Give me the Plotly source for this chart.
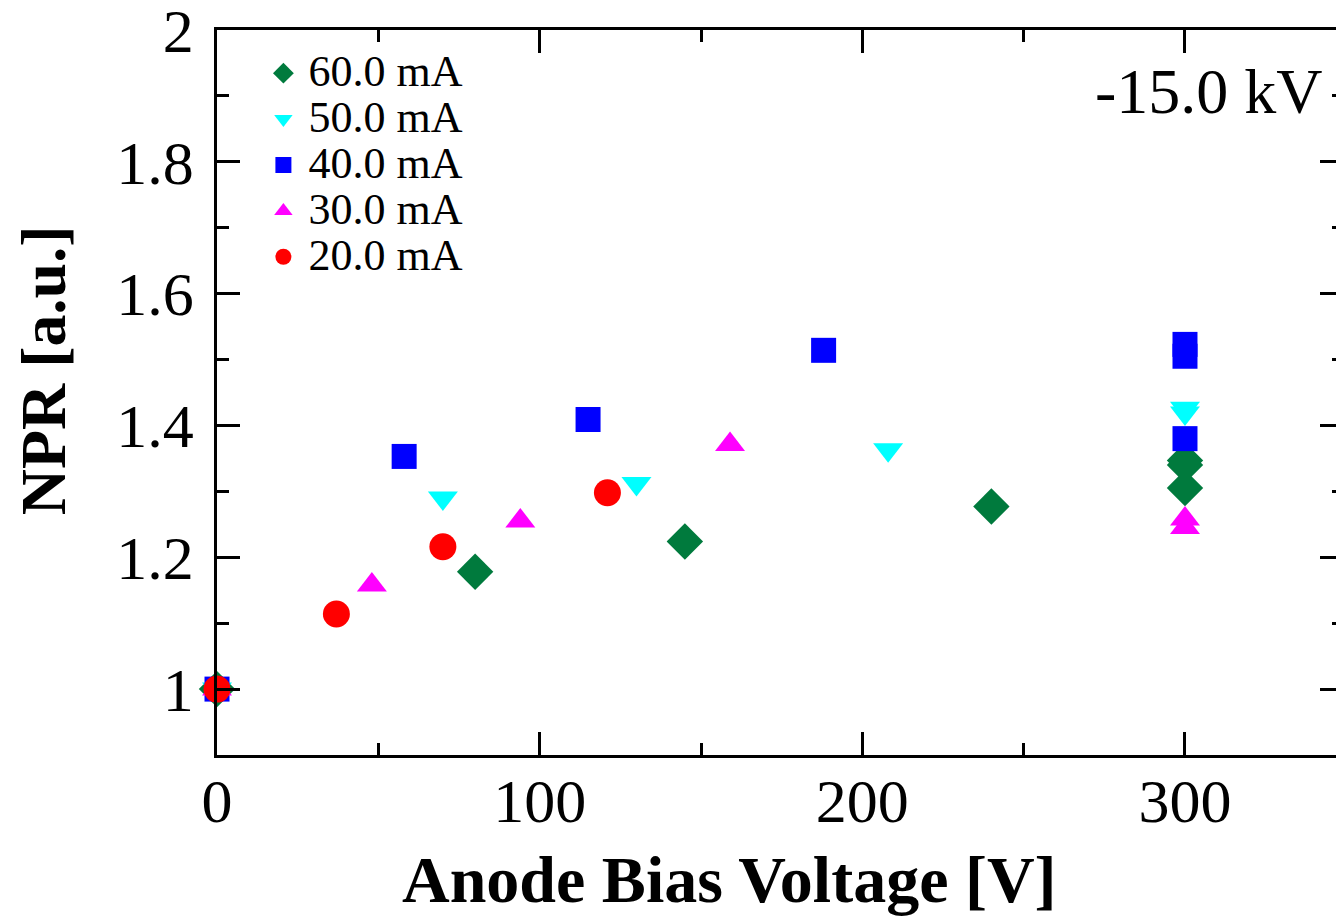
import plotly.graph_objects as go

# ---- data ----
series_names = ["60.0 mA", "50.0 mA", "40.0 mA", "30.0 mA", "20.0 mA"]

v60 = [0, 80, 145, 240, 300, 300, 300]
npr60 = [1.0, 1.178, 1.224, 1.277, 1.347, 1.340, 1.305]

v50 = [0, 70, 130, 208, 300, 300]
npr50 = [1.0, 1.290, 1.312, 1.363, 1.426, 1.419]

v40 = [0, 58, 115, 188, 300, 300, 300]
npr40 = [1.0, 1.353, 1.409, 1.514, 1.523, 1.505, 1.380]

v30 = [0, 48, 94, 159, 300, 300]
npr30 = [1.0, 1.158, 1.255, 1.371, 1.258, 1.245]

v20 = [0, 37, 70, 121]
npr20 = [1.0, 1.114, 1.216, 1.298]

x_tick_vals = [0, 100, 200, 300]
y_tick_vals = [1.0, 1.2, 1.4, 1.6, 1.8, 2.0]

# ---- styles ----
FONT = "Liberation Serif"
styles = [
    dict(symbol="diamond", color="#007a3d", size=28),
    dict(symbol="triangle-down", color="#00ffff", size=26),
    dict(symbol="square", color="#0000ff", size=25),
    dict(symbol="triangle-up", color="#ff00ff", size=26),
    dict(symbol="circle", color="#ff0000", size=27),
]
xs = [v60, v50, v40, v30, v20]
ys = [npr60, npr50, npr40, npr30, npr20]

fig = go.Figure()
for name, x, y, st in zip(series_names, xs, ys, styles):
    fig.add_trace(go.Scatter(
        x=x, y=y, mode="markers", cliponaxis=False,
        name='<span style="font-size:44px">' + name + "</span>",
        marker=dict(symbol=st["symbol"], color=st["color"], size=st["size"],
                    line=dict(width=0)),
    ))

# invisible carrier for the right-hand tick axis
fig.add_trace(go.Scatter(x=v20, y=npr20, yaxis="y2", mode="markers",
                         marker=dict(opacity=0), showlegend=False,
                         hoverinfo="skip"))

axis_common = dict(
    showgrid=False, zeroline=False, linecolor="black", linewidth=2.5,
    tickcolor="black", tickwidth=2.5, ticks="inside",
    ticklabeloverflow="allow",
    tickfont=dict(family=FONT, size=62, color="black"),
)

Y_RANGE = [0.9, 2.0]

fig.update_layout(
    width=1336, height=916,
    margin=dict(l=217, r=0, t=30, b=161, autoexpand=False),
    paper_bgcolor="white", plot_bgcolor="white",
    showlegend=True,
    legend=dict(x=0.037, y=0.979, xanchor="left", yanchor="top",
                bgcolor="rgba(0,0,0,0)", borderwidth=0, itemwidth=40,
                font=dict(family=FONT, size=33, color="black"),
                traceorder="normal"),
    xaxis=dict(range=[0, 346.8], tickvals=x_tick_vals, ticklen=23,
               showline=True, mirror="ticks", ticklabelstandoff=-10,
               minor=dict(dtick=50, tick0=0, ticklen=12, ticks="inside",
                          tickcolor="black", tickwidth=2.5),
               **axis_common),
    yaxis=dict(range=Y_RANGE, tickvals=y_tick_vals, ticklen=23,
               showline=True, mirror=False, ticklabelstandoff=8,
               minor=dict(dtick=0.1, tick0=0, ticklen=12, ticks="inside",
                          tickcolor="black", tickwidth=2.5),
               **axis_common),
    yaxis2=dict(range=Y_RANGE, overlaying="y", side="right",
                showgrid=False, zeroline=False, showline=False,
                showticklabels=False, ticks="inside", ticklen=16,
                tickwidth=2.5, tickcolor="black", tickvals=y_tick_vals,
                minor=dict(dtick=0.1, tick0=0, ticklen=4, ticks="inside",
                           tickcolor="black", tickwidth=2.5)),
    annotations=[
        dict(text="Anode Bias Voltage [V]", xref="paper", yref="paper",
             x=0.4576, y=-0.172, xanchor="center", yanchor="middle",
             showarrow=False,
             font=dict(family=FONT, size=66, color="black", weight="bold")),
        dict(text="NPR [a.u.]", xref="paper", yref="paper",
             x=-0.155, y=0.53, xanchor="center", yanchor="middle",
             textangle=-90, showarrow=False,
             font=dict(family=FONT, size=64, color="black", weight="bold")),
        dict(text="-15.0 kV", xref="paper", yref="paper",
             x=0.990, y=0.915, xanchor="right", yanchor="middle",
             showarrow=False,
             font=dict(family=FONT, size=64, color="black")),
    ],
)

fig.write_html("out.html")
